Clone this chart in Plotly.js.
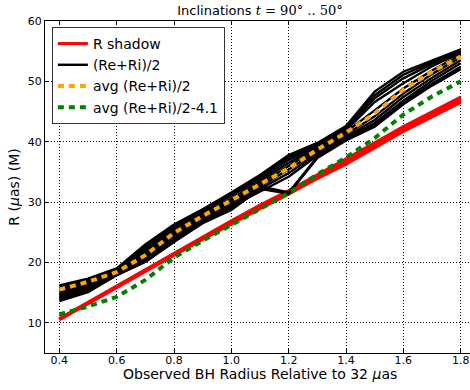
<!DOCTYPE html>
<html>
<head>
<meta charset="utf-8">
<script src="https://cdn.plot.ly/plotly-3.0.1.min.js"></script>
<style>
html, body { margin:0; padding:0; overflow:hidden; background:#fff; }
#chart { width:475px; height:390px; }
</style>
</head>
<body>
<div id="chart"></div>
<script>
// ---- data ----
const xVals = [0.4, 0.5, 0.6, 0.7, 0.8, 0.9, 1.0, 1.1, 1.2, 1.3, 1.4, 1.5, 1.6, 1.7, 1.8];

// R shadow, one curve per inclination
const redShadow1 = [10.7, 13.4, 16.1, 18.9, 21.6, 24.3, 26.9, 29.5, 31.9, 34.5, 37.1, 39.8, 42.5, 44.9, 47.4];
const redShadow2 = [10.6, 13.3, 16.0, 18.8, 21.5, 24.2, 26.8, 29.3, 31.8, 34.3, 36.9, 39.6, 42.3, 44.7, 47.2];
const redShadow3 = [10.6, 13.3, 16.0, 18.7, 21.4, 24.0, 26.6, 29.2, 31.6, 34.2, 36.7, 39.4, 42.1, 44.5, 46.9];
const redShadow4 = [10.5, 13.2, 15.9, 18.6, 21.3, 23.9, 26.5, 29.0, 31.5, 34.0, 36.5, 39.2, 41.9, 44.3, 46.7];
const redShadow5 = [10.5, 13.2, 15.9, 18.5, 21.2, 23.8, 26.4, 28.9, 31.3, 33.9, 36.3, 39.0, 41.7, 44.1, 46.5];

// (Re+Ri)/2, one curve per inclination
const ring1  = [16.2, 17.3, 19.0, 23.0, 26.3, 28.8, 31.6, 34.5, 37.8, 39.8, 42.6, 48.3, 51.6, 53.5, 55.3];
const ring2  = [16.0, 17.1, 18.8, 22.6, 26.0, 28.6, 31.3, 34.2, 37.4, 39.6, 42.4, 47.7, 51.1, 53.2, 55.1];
const ring3  = [15.7, 16.9, 18.6, 22.2, 25.6, 28.3, 31.0, 33.8, 37.0, 39.4, 42.2, 47.2, 50.5, 52.9, 54.9];
const ring4  = [15.4, 16.6, 18.4, 21.8, 25.2, 28.0, 30.6, 33.4, 36.5, 39.1, 41.9, 46.6, 49.7, 52.5, 54.7];
const ring5  = [15.1, 16.4, 18.3, 21.4, 24.8, 27.7, 30.3, 33.0, 36.0, 38.8, 41.6, 45.2, 48.8, 51.8, 54.4];
const ring6  = [14.8, 16.1, 18.2, 21.0, 24.5, 27.4, 30.0, 32.6, 35.4, 38.4, 41.2, 44.2, 48.0, 51.2, 54.0];
const ring7  = [14.5, 15.9, 18.1, 20.7, 24.1, 27.1, 29.6, 32.2, 34.8, 38.1, 40.9, 43.6, 47.4, 50.6, 53.5];
const ring8  = [14.2, 15.6, 18.0, 20.4, 23.8, 26.8, 29.3, 31.8, 34.2, 37.7, 40.6, 43.1, 46.8, 50.1, 53.0];
const ring9  = [13.9, 15.3, 17.9, 20.2, 23.5, 26.6, 29.0, 32.6, 31.6, 37.5, 40.4, 42.8, 46.5, 49.6, 52.4];
const ring10 = [13.6, 15.1, 17.9, 20.1, 23.4, 26.5, 28.7, 32.2, 31.4, 37.3, 40.2, 42.5, 46.2, 49.3, 52.0];

const avgRing      = [15.5, 16.8, 18.4, 21.2, 24.9, 27.7, 30.3, 32.9, 35.6, 38.7, 41.5, 44.7, 48.6, 51.6, 54.1];
const avgRingMinus = [11.4, 12.7, 14.3, 17.1, 20.8, 23.6, 26.2, 28.8, 31.5, 34.6, 37.4, 40.6, 44.5, 47.5, 50.0];

const seriesNames = ['R shadow', '(Re+Ri)/2', 'avg (Re+Ri)/2', 'avg (Re+Ri)/2-4.1'];
const xTickVals = [0.4, 0.6, 0.8, 1.0, 1.2, 1.4, 1.6, 1.8];
const xTickText = ['0.4', '0.6', '0.8', '1.0', '1.2', '1.4', '1.6', '1.8'];
const yTickVals = [10, 20, 30, 40, 50, 60];
const yTickText = ['10', '20', '30', '40', '50', '60'];

// ---- traces ----
const redSets = [redShadow1, redShadow2, redShadow3, redShadow4, redShadow5];
const ringSets = [ring1, ring2, ring3, ring4, ring5, ring6, ring7, ring8, ring9, ring10];
const traces = [];
redSets.forEach((ys, i) => traces.push({
  x: xVals, y: ys, type: 'scatter', mode: 'lines',
  name: seriesNames[0], showlegend: i === 0, legendgroup: 'r',
  line: {color: '#ff0000', width: 3}
}));
ringSets.forEach((ys, i) => traces.push({
  x: xVals, y: ys, type: 'scatter', mode: 'lines',
  name: seriesNames[1], showlegend: i === 0, legendgroup: 'k',
  line: {color: '#000000', width: 2.4}
}));
traces.push({
  x: xVals, y: avgRing, type: 'scatter', mode: 'lines', name: seriesNames[2],
  line: {color: '#ffa500', width: 4, dash: '6px,5px'}
});
traces.push({
  x: xVals, y: avgRingMinus, type: 'scatter', mode: 'lines', name: seriesNames[3],
  line: {color: '#008000', width: 4, dash: '6px,5px'}
});

const font = 'DejaVu Sans, sans-serif';
const axisCommon = {
  showline: true, linecolor: '#000', linewidth: 1, mirror: 'ticks',
  ticks: 'inside', ticklen: 4, tickcolor: '#000', tickwidth: 1,
  showgrid: true, gridcolor: '#000', gridwidth: 1, griddash: '1px,2px',
  zeroline: false, tickfont: {family: font, size: 11, color: '#000'}
};

const layout = {
  width: 475, height: 390,
  margin: {l: 45, r: 0, t: 21, b: 37},
  paper_bgcolor: '#fff', plot_bgcolor: '#fff',
  font: {family: font, color: '#000'},
  title: {
    text: 'Inclinations <span style="font-family:DejaVu Serif"><i>t</i> = 90° .. 50°</span>',
    font: {family: font, size: 13, color: '#000'},
    x: 0.5, xref: 'paper', xanchor: 'center',
    y: 0.972, yref: 'container', yanchor: 'middle'
  },
  xaxis: Object.assign({}, axisCommon, {
    range: [0.35, 1.85], tickvals: xTickVals, ticktext: xTickText,
    ticklabelstandoff: -3
  }),
  yaxis: Object.assign({}, axisCommon, {
    range: [5, 60], tickvals: yTickVals, ticktext: yTickText,
    title: {text: 'R (<i>μ</i>as) (M)', font: {family: font, size: 14, color: '#000'}, standoff: 4}
  }),
  annotations: [{
    text: 'Observed BH Radius Relative to 32 <i>μ</i>as',
    xref: 'paper', yref: 'paper', x: 0.499, y: -0.064,
    xanchor: 'center', yanchor: 'middle', showarrow: false,
    font: {family: font, size: 14, color: '#000'}
  }],
  showlegend: true,
  legend: {
    x: 0.016, y: 0.982, xanchor: 'left', yanchor: 'top',
    bgcolor: '#fff', bordercolor: '#333', borderwidth: 1,
    font: {family: font, size: 14, color: '#000'},
    itemwidth: 30, tracegroupgap: 0
  }
};

Plotly.newPlot('chart', traces, layout, {displayModeBar: false, staticPlot: true});
</script>
</body>
</html>
